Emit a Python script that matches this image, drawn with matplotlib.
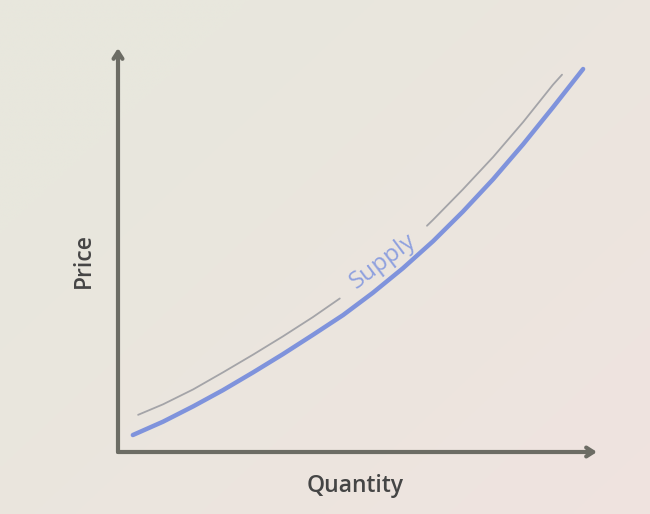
import numpy as np
import matplotlib
matplotlib.use("Agg")
import matplotlib.pyplot as plt
from matplotlib.colors import to_rgb

# supply curve (quantity 0-10, price 0-10)
supply_q = [0.31, 0.94, 1.57, 2.19, 2.82, 3.44, 4.07, 4.70,
            5.32, 5.95, 6.58, 7.20, 7.83, 8.46, 9.08, 9.71]
supply_p = [0.42, 0.75, 1.13, 1.53, 1.97, 2.42, 2.90, 3.39,
            3.94, 4.55, 5.22, 5.95, 6.75, 7.62, 8.53, 9.48]

# thin guide line above the curve, broken where the label sits
guide_q = [0.42, 0.94, 1.57, 2.19, 2.82, 3.44, 4.07, 4.63, np.nan,
           6.45, 6.58, 7.20, 7.83, 8.46, 9.08, 9.27]
guide_p = [0.92, 1.18, 1.55, 1.97, 2.41, 2.86, 3.34, 3.80, np.nan,
           5.60, 5.75, 6.50, 7.30, 8.17, 9.09, 9.34]

label_text = "Supply"
label_q, label_p = 5.53, 4.72
x_label = "Quantity"
y_label = "Price"

W, H = 650, 514
fig = plt.figure(figsize=(W / 100, H / 100), dpi=100)

# soft diagonal background: beige top-left to pink bottom-right
bg = fig.add_axes([0, 0, 1, 1])
c1 = np.array(to_rgb("#e8e7dd"))
c2 = np.array(to_rgb("#f0e3e0"))
yy, xx = np.mgrid[0:1:200j, 0:1:200j]
t = np.clip(0.65 * xx + 0.55 * yy - 0.25, 0, 1)[..., None]
bg.imshow(c1 * (1 - t) + c2 * t, extent=[0, 1, 0, 1], aspect="auto", origin="upper")
bg.axis("off")

ox, oy = 118, 452
tip_x, tip_y = 597, 48
ax = fig.add_axes([ox / W, (H - oy) / H, (tip_x - ox) / W, (oy - tip_y) / H])
ax.set_xlim(0, 10)
ax.set_ylim(0, 10)
ax.axis("off")
ax.patch.set_alpha(0)

axis_col = "#6c6c64"
head = "->,head_length=0.5,head_width=0.32"
for end in [(10, 0), (0, 10)]:
    ax.annotate("", xy=end, xytext=(0, 0),
                arrowprops=dict(arrowstyle=head, color=axis_col, lw=3.0,
                                shrinkA=0, shrinkB=0),
                annotation_clip=False)

ax.plot(guide_q, guide_p, color="#a4a4a8", lw=1.3, solid_capstyle="round")
ax.plot(supply_q, supply_p, color="#7f93dc", lw=3.2, solid_capstyle="round",
        solid_joinstyle="round")

ax.text(label_q, label_p, label_text, color="#8ea0de", fontsize=17.5,
        family="Open Sans", rotation=37, ha="center", va="center",
        rotation_mode="anchor")

fig.text(355 / W, 1 - 486 / H, x_label, fontsize=16.5, family="Open Sans",
         weight="semibold", color="#454545", ha="center", va="center")
fig.text(84 / W, 1 - 260 / H, y_label, fontsize=16.5, family="Open Sans",
         weight="semibold", color="#454545", ha="center", va="center",
         rotation=90)

fig.savefig("out.png", dpi=100)
